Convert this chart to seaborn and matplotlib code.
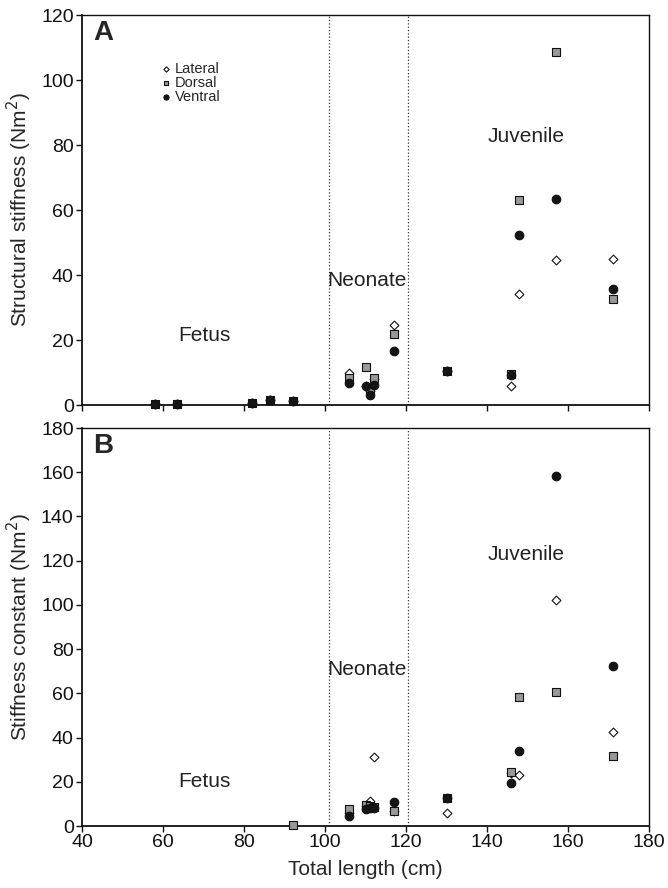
import matplotlib
matplotlib.use("Agg")
import matplotlib.pyplot as plt
import numpy as np
import pandas as pd
import seaborn as sns

# total length (cm) of each specimen
lengths = [58, 63.5, 82, 86.5, 92, 106, 110, 111, 112, 117, 130, 146, 148, 157, 171]

# panel A: structural stiffness (Nm^2)
a_lateral = [0.3, 0.3, 0.7, 1.5, 1.3, 9.7, 6.0, 4.4, 8.0, 24.6, 10.6, 5.7, 34.2, 44.6, 44.8]
a_dorsal = [0.3, 0.3, 0.7, 1.5, 1.3, 8.2, 11.8, 5.0, 8.2, 22.0, 10.6, 9.5, 63.1, 108.5, 32.6]
a_ventral = [0.3, 0.3, 0.7, 1.5, 1.3, 6.9, 5.8, 3.1, 6.2, 16.6, 10.6, 9.2, 52.3, 63.4, 35.8]

# panel B: stiffness constant (Nm^2)
nan = np.nan
b_lateral = [nan, nan, nan, nan, nan, 6.0, 9.0, 11.5, 31.1, 6.8, 5.7, 24.0, 23.1, 102.3, 42.7]
b_dorsal = [nan, nan, nan, nan, 0.5, 7.5, 9.5, 9.0, 8.7, 6.8, 12.8, 24.3, 58.5, 60.5, 31.7]
b_ventral = [nan, nan, nan, nan, nan, 4.7, 7.5, 8.0, 8.0, 11.0, 12.8, 19.6, 33.9, 158.1, 72.5]

stage_names = ["Fetus", "Neonate", "Juvenile"]
stage_pos_a = [(70.3, 21.5), (110.4, 38.2), (149.6, 82.5)]
stage_pos_b = [(70.3, 20.0), (110.4, 70.6), (149.6, 123.0)]
stage_bounds = [101, 120.6]

series_style = {
    "Lateral": dict(marker="D", color="white", s=20),
    "Dorsal": dict(marker="s", color="#999999", s=28),
    "Ventral": dict(marker="o", color="#151515", s=38),
}

sns.set_style("ticks")
plt.rcParams["font.family"] = ["Liberation Sans", "DejaVu Sans"]

fig = plt.figure(figsize=(6.68, 8.88), dpi=100)
ax_a = fig.add_axes([0.1228, 0.5439, 0.8488, 0.4392])
ax_b = fig.add_axes([0.1228, 0.0698, 0.8488, 0.4482])

panels = [
    (ax_a, [a_lateral, a_dorsal, a_ventral], stage_pos_a, 120,
     "Structural stiffness (Nm$^2$)", "A"),
    (ax_b, [b_lateral, b_dorsal, b_ventral], stage_pos_b, 180,
     "Stiffness constant (Nm$^2$)", "B"),
]

for ax, values, stage_pos, ymax, ylabel, letter in panels:
    for name, vals in zip(series_style, values):
        st = series_style[name]
        df = pd.DataFrame({"length": lengths, "value": vals}).dropna()
        sns.scatterplot(
            data=df, x="length", y="value", marker=st["marker"],
            color=st["color"], s=st["s"], edgecolor="#111111",
            linewidth=0.8, label=name, ax=ax, zorder=3, clip_on=False,
        )
    for xb in stage_bounds:
        ax.axvline(xb, color="#333333", linestyle=":", linewidth=0.9, zorder=1)
    for name, (tx, ty) in zip(stage_names, stage_pos):
        ax.text(tx, ty, name, ha="center", va="center", fontsize=15,
                color="#222222")
    ax.text(0.02, 0.988, letter, transform=ax.transAxes, ha="left", va="top",
            fontsize=20, fontweight="bold")
    ax.set_xlim(40, 180)
    ax.set_ylim(0, ymax)
    ax.set_xticks(range(40, 181, 20))
    ax.set_yticks(range(0, ymax + 1, 20))
    ax.set_ylabel(ylabel, fontsize=15, labelpad=5)
    ax.tick_params(axis="both", direction="out", length=4, width=1,
                   labelsize=14, colors="#111111", pad=2)
    for side in ["left", "bottom"]:
        ax.spines[side].set_linewidth(1.3)
    for side in ["top", "right"]:
        ax.spines[side].set_linewidth(1.0)
    for sp in ax.spines.values():
        sp.set_color("#111111")
    ax.legend_.remove()

ax_a.set_xticklabels([])
ax_a.set_xlabel("")
ax_b.set_xlabel("Total length (cm)", fontsize=15, labelpad=6)

handles, labels = ax_a.get_legend_handles_labels()
leg = ax_a.legend(
    handles, labels, loc="upper left", bbox_to_anchor=(0.122, 0.898),
    frameon=False, fontsize=10.5, markerscale=0.6, handletextpad=0.1,
    labelspacing=0.0, borderpad=0, handlelength=1.0,
)

fig.savefig("out.png", dpi=100)
